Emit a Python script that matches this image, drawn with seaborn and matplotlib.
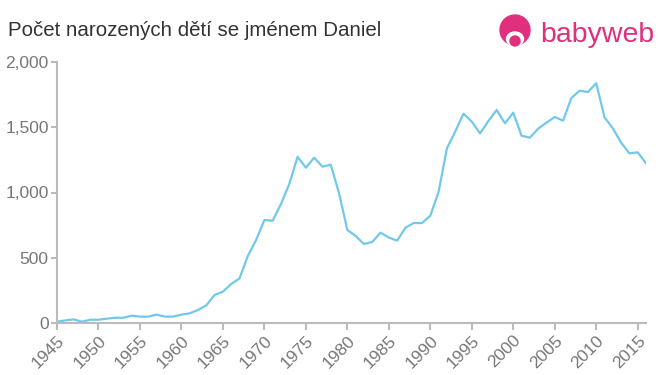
import matplotlib
matplotlib.use("Agg")
import matplotlib.pyplot as plt
import seaborn as sns
import pandas as pd
from matplotlib.patches import Circle, Ellipse

years = list(range(1945, 2017))
counts = [10, 20, 28, 10, 25, 25, 33, 40, 40, 56,
          49, 49, 64, 49, 49, 64, 74, 100, 135, 215,
          240, 299, 342, 513, 636, 789, 784, 912, 1065, 1274,
          1190, 1267, 1198, 1213, 994, 713, 667, 605, 621, 692,
          655, 631, 730, 766, 766, 822, 1006, 1338, 1466, 1604,
          1543, 1453, 1548, 1632, 1530, 1612, 1435, 1420, 1489, 1535,
          1579, 1550, 1724, 1780, 1770, 1837, 1576, 1492, 1382, 1300,
          1308, 1224]
xticks = list(range(1945, 2016, 5))
yticks = [0, 500, 1000, 1500, 2000]
title = "Počet narozených dětí se jménem Daniel"

df = pd.DataFrame({"year": years, "count": counts})

sns.set_theme(style="white")
plt.rcParams['font.family'] = ['Liberation Sans', 'DejaVu Sans']

fig = plt.figure(figsize=(6.6, 3.75), dpi=100)
ax = fig.add_axes([57/660, 1-323/375, (646-57)/660, (323-62)/375])
sns.lineplot(data=df, x="year", y="count", ax=ax, color="#72c8ea", linewidth=1.6)

ax.set_xlim(1945, 2016)
ax.set_ylim(0, 2000)
ax.set_xticks(xticks)
ax.set_xticklabels([str(t) for t in xticks], rotation=45, ha="right", rotation_mode="anchor")
ax.set_yticks(yticks)
ax.set_yticklabels([f"{t:,}" for t in yticks])
ax.set_xlabel("")
ax.set_ylabel("")
for s in ["top", "right"]:
    ax.spines[s].set_visible(False)
for s in ["left", "bottom"]:
    ax.spines[s].set_color("#bbbbbb")
    ax.spines[s].set_linewidth(1.5)
ax.tick_params(axis="both", colors="#bbbbbb", labelcolor="#777777", labelsize=12.5,
               length=5, width=1.5, direction="out", bottom=True, left=True)
ax.tick_params(axis="x", pad=2)
ax.tick_params(axis="y", length=4, pad=2)
ax.grid(False)

fig.text(8/660, 1-31/375, title, fontsize=14.8, color="#333333", va="center", ha="left")

# logo (pixel coordinates via inches transform)
pink = "#e0307d"
T = fig.dpi_scale_trans
def P(x, y):
    return (x/100, (375-y)/100)
fig.patches.append(Circle(P(515, 30), 0.15, transform=T, color=pink, zorder=5))
fig.patches.append(Ellipse(P(515, 39), 0.17, 0.14, transform=T, color="white", zorder=6))
fig.patches.append(Circle(P(515, 41), 0.05, transform=T, color=pink, zorder=7))
fig.text(540/660, 1-35/375, "babyweb", fontsize=20.5, color=pink, va="center", ha="left")

fig.savefig("out.png", dpi=100)
